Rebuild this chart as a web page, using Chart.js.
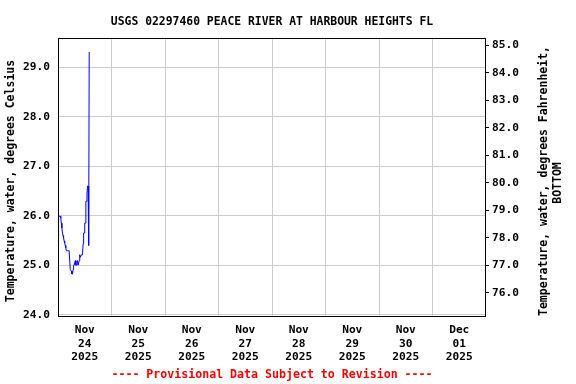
<!DOCTYPE html>
<html>
<head>
<meta charset="utf-8">
<script src="https://cdn.jsdelivr.net/npm/chart.js@4.4.1/dist/chart.umd.min.js"></script>
<style>
  html, body { margin: 0; padding: 0; background: #fff; }
</style>
</head>
<body>
<canvas id="chart" width="576" height="384"></canvas>
<script>
// hours after Nov 24 2025 00:00, one reading per 15 minutes
const hours = [
    0, 0.25, 0.5, 0.75, 1, 1.25, 1.5, 1.75, 2, 2.25,
    2.5, 2.75, 3, 3.25, 3.5, 3.75, 4, 4.25, 4.5, 4.75,
    5, 5.25, 5.5, 5.75, 6, 6.25, 6.5, 6.75, 7, 7.25,
    7.5, 7.75, 8, 8.25, 8.5, 8.75, 9, 9.25, 9.5, 9.75,
    10, 10.25, 10.5, 10.75, 11, 11.25, 11.5, 11.75, 12, 12.25,
    12.5, 12.75, 13, 13.25, 13.5, 13.75, 14
];
const tempC = [
    25.40, 25.99, 25.99, 25.99, 25.99, 25.95, 25.85, 25.75, 25.65, 25.60,
    25.55, 25.49, 25.45, 25.40, 25.35, 25.29, 25.29, 25.29, 25.29, 25.29,
    25.29, 25.29, 24.91, 24.91, 24.88, 24.82, 24.82, 24.91, 25.00, 25.00,
    25.00, 25.09, 25.00, 25.00, 25.09, 25.09, 25.00, 25.00, 25.09, 25.21,
    25.16, 25.16, 25.21, 25.21, 25.21, 25.43, 25.65, 25.65, 25.85, 25.85,
    26.29, 26.29, 26.44, 26.60, 26.60, 25.40, 29.31
];

const dayTicks = [12, 36, 60, 84, 108, 132, 156, 180];
const dayLabels = [
    ['Nov', '24', '2025'], ['Nov', '25', '2025'], ['Nov', '26', '2025'], ['Nov', '27', '2025'],
    ['Nov', '28', '2025'], ['Nov', '29', '2025'], ['Nov', '30', '2025'], ['Dec', '01', '2025']
];
const midnightLines = [24, 48, 72, 96, 120, 144, 168];
const celsiusTicks = [24, 25, 26, 27, 28, 29];
const fahrenheitTicks = [76, 77, 78, 79, 80, 81, 82, 83, 84, 85];

const yMin = 23.97;
const yMax = 29.6;
const toF = c => c * 1.8 + 32;

const mono = 'DejaVu Sans Mono';
Chart.defaults.font.family = mono;
Chart.defaults.font.weight = 'bold';
Chart.defaults.color = '#000';

const frameAndTitles = {
    id: 'frameAndTitles',
    afterDraw(chart) {
        const ctx = chart.ctx;
        const a = chart.chartArea;
        ctx.save();
        ctx.strokeStyle = '#000';
        ctx.lineWidth = 1;
        ctx.strokeRect(Math.round(a.left) + 0.5, Math.round(a.top) + 0.5,
            Math.round(a.right - a.left) - 1, Math.round(a.bottom - a.top));

        ctx.fillStyle = '#000';
        ctx.font = 'bold 11.5px ' + mono;
        ctx.textAlign = 'center';
        ctx.textBaseline = 'middle';

        ctx.save();
        ctx.translate(11, 181);
        ctx.rotate(-Math.PI / 2);
        ctx.fillText('Temperature, water, degrees Celsius', 0, 0);
        ctx.restore();

        ctx.save();
        ctx.translate(544, 181);
        ctx.rotate(-Math.PI / 2);
        ctx.fillText('Temperature, water, degrees Fahrenheit,', 0, 0);
        ctx.fillText('BOTTOM', -2, 14);
        ctx.restore();
        ctx.restore();
    }
};

new Chart(document.getElementById('chart'), {
    type: 'line',
    data: {
        datasets: [{
            data: hours.map((h, i) => ({ x: h, y: tempC[i] })),
            borderColor: '#0000ff',
            borderWidth: 1,
            pointRadius: 0,
            tension: 0,
            fill: false,
            xAxisID: 'x',
            yAxisID: 'y'
        }]
    },
    options: {
        responsive: false,
        animation: false,
        devicePixelRatio: 1,
        layout: { padding: 0 },
        plugins: {
            legend: { display: false },
            tooltip: { enabled: false },
            title: {
                display: true,
                text: 'USGS 02297460 PEACE RIVER AT HARBOUR HEIGHTS FL',
                fullSize: false,
                color: '#000',
                font: { family: mono, size: 11.4, weight: 'bold' },
                padding: { top: 15, bottom: 9 }
            },
            subtitle: {
                display: true,
                position: 'bottom',
                text: '---- Provisional Data Subject to Revision ----',
                fullSize: false,
                color: '#ff0000',
                font: { family: mono, size: 11.6, weight: 'bold' },
                padding: { top: 5, bottom: 2 }
            }
        },
        scales: {
            x: {
                type: 'linear',
                min: 0,
                max: 192,
                afterBuildTicks: s => {
                    s.ticks = dayTicks.concat(midnightLines).sort((a, b) => a - b).map(v => ({ value: v }));
                },
                afterFit: s => { s.height = 47; },
                ticks: {
                    autoSkip: false,
                    maxRotation: 0,
                    padding: 7.4,
                    font: { family: mono, size: 11.2, weight: 'bold' },
                    callback: v => {
                        const i = dayTicks.indexOf(v);
                        return i >= 0 ? dayLabels[i] : '';
                    }
                },
                grid: {
                    drawTicks: false,
                    color: c => (c.tick && midnightLines.includes(c.tick.value)) ? '#cccccc' : 'rgba(0,0,0,0)'
                },
                border: { display: false }
            },
            y: {
                type: 'linear',
                position: 'left',
                min: yMin,
                max: yMax,
                afterBuildTicks: s => { s.ticks = celsiusTicks.map(v => ({ value: v })); },
                afterFit: s => { s.width = 58; },
                ticks: {
                    padding: 8,
                    font: { family: mono, size: 11.2, weight: 'bold' },
                    callback: v => v.toFixed(1)
                },
                grid: { drawTicks: false, color: '#cccccc' },
                border: { display: false }
            },
            yF: {
                type: 'linear',
                position: 'right',
                min: toF(yMin),
                max: toF(yMax),
                afterBuildTicks: s => { s.ticks = fahrenheitTicks.map(v => ({ value: v })); },
                afterFit: s => { s.width = 90; },
                ticks: {
                    padding: 3,
                    font: { family: mono, size: 11.2, weight: 'bold' },
                    callback: v => v.toFixed(1)
                },
                grid: { drawOnChartArea: false, drawTicks: true, tickLength: 3, color: '#000' },
                border: { display: false }
            }
        }
    },
    plugins: [frameAndTitles]
});
</script>
</body>
</html>
